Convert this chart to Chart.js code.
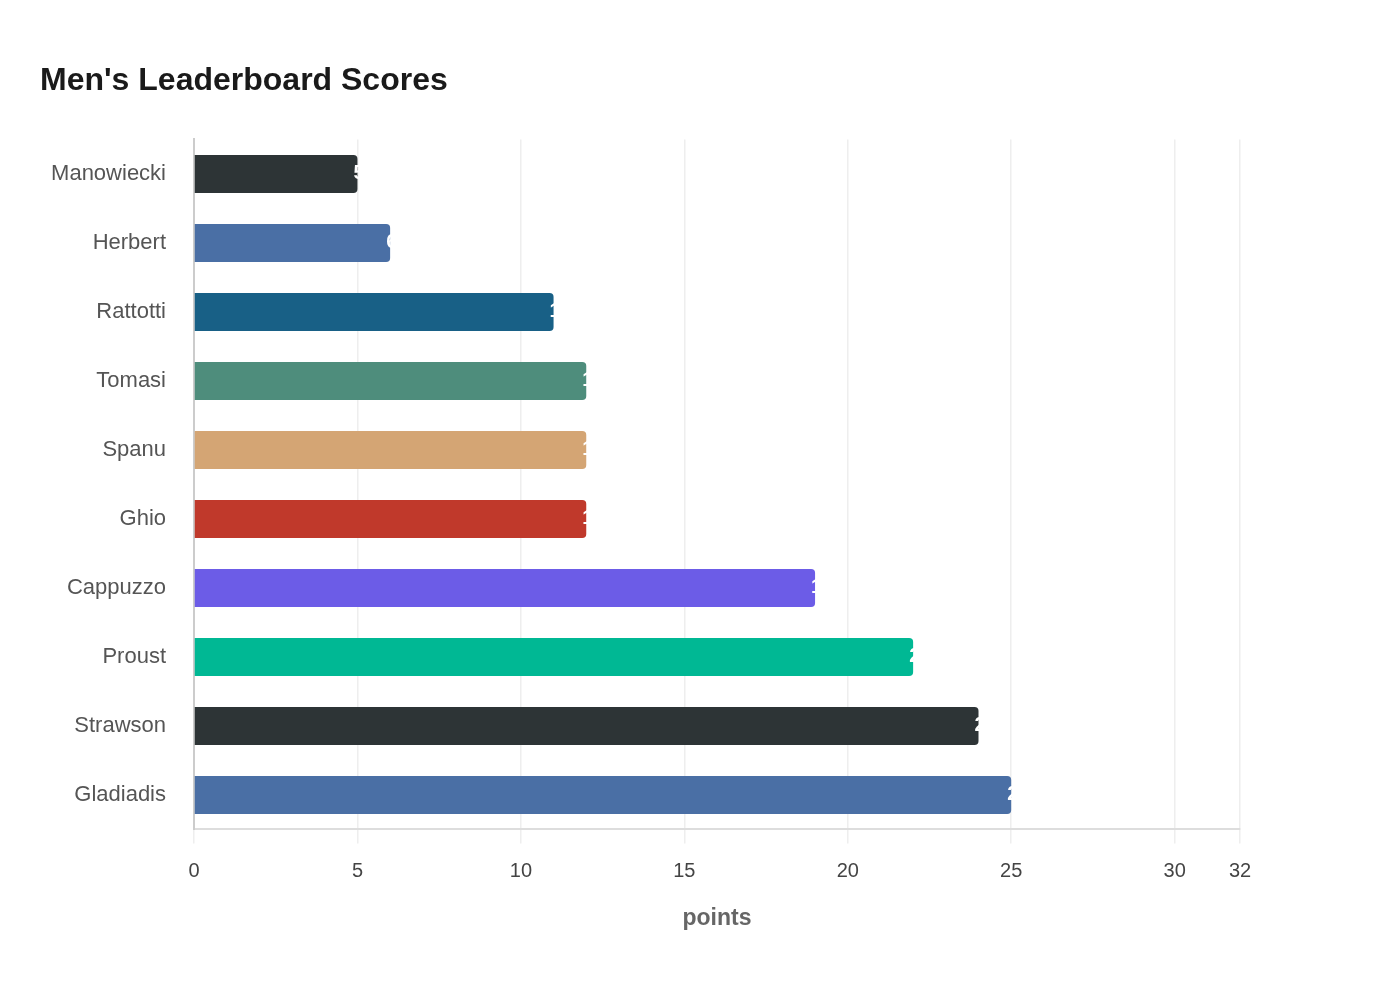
<html>
<head>
<style>body{margin:0;background:#fff}</style>
</head>
<body>
<script src="https://cdn.jsdelivr.net/npm/chart.js@4.4.1/dist/chart.umd.min.js"></script>
<canvas id="board" width="1400" height="1000"></canvas>
<script>
const players = ['Manowiecki', 'Herbert', 'Rattotti', 'Tomasi', 'Spanu', 'Ghio', 'Cappuzzo', 'Proust', 'Strawson', 'Gladiadis'];
const points = [5, 6, 11, 12, 12, 12, 19, 22, 24, 25];
const barColors = ['#2d3436', '#4a6fa5', '#186086', '#4e8d7c', '#d4a574', '#c0392b', '#6c5ce7', '#00b894', '#2d3436', '#4a6fa5'];
const xTicks = [0, 5, 10, 15, 20, 25, 30, 32];

const FONT = "'Liberation Sans', Arial, sans-serif";

// white value labels sitting on the bar end (mostly falls outside, like the original)
const valueLabels = {
    id: 'valueLabels',
    afterDatasetsDraw(chart) {
        const ctx = chart.ctx;
        const meta = chart.getDatasetMeta(0);
        ctx.save();
        ctx.fillStyle = '#ffffff';
        ctx.font = 'bold 20px ' + FONT;
        ctx.textAlign = 'left';
        ctx.textBaseline = 'middle';
        meta.data.forEach((bar, i) => {
            ctx.fillText(String(points[i]), bar.x - 4, bar.y);
        });
        ctx.restore();
    }
};

new Chart(document.getElementById('board'), {
    type: 'bar',
    data: {
        labels: players,
        datasets: [{
            data: points,
            backgroundColor: barColors,
            borderRadius: 4,
            borderSkipped: 'start',
            categoryPercentage: 1,
            barPercentage: 0.55
        }]
    },
    options: {
        indexAxis: 'y',
        responsive: false,
        animation: false,
        layout: { padding: { left: 40, right: 160, top: 0, bottom: 68 } },
        plugins: {
            legend: { display: false },
            tooltip: { enabled: false },
            title: {
                display: true,
                text: "Men's Leaderboard Scores",
                align: 'start',
                color: '#1a1a1a',
                font: { family: FONT, size: 32, weight: 'bold' },
                padding: { top: 62, bottom: 39 }
            }
        },
        scales: {
            x: {
                min: 0,
                max: 32,
                afterBuildTicks(scale) {
                    scale.ticks = xTicks.map(v => ({ value: v }));
                },
                grid: { color: '#eeeeee', lineWidth: 1.5, tickLength: 14 },
                border: { color: '#dddddd', width: 2 },
                ticks: {
                    color: '#444444',
                    padding: 16,
                    font: { family: FONT, size: 20 }
                },
                title: {
                    display: true,
                    text: 'points',
                    color: '#666666',
                    font: { family: FONT, size: 23, weight: 'bold' },
                    padding: { top: 5, bottom: 0 }
                }
            },
            y: {
                afterFit(scale) { scale.width = 154; },
                grid: { display: false },
                border: { color: '#cccccc', width: 2 },
                ticks: {
                    color: '#555555',
                    padding: 20,
                    font: { family: FONT, size: 22 }
                }
            }
        }
    },
    plugins: [valueLabels]
});
</script>
</body>
</html>
